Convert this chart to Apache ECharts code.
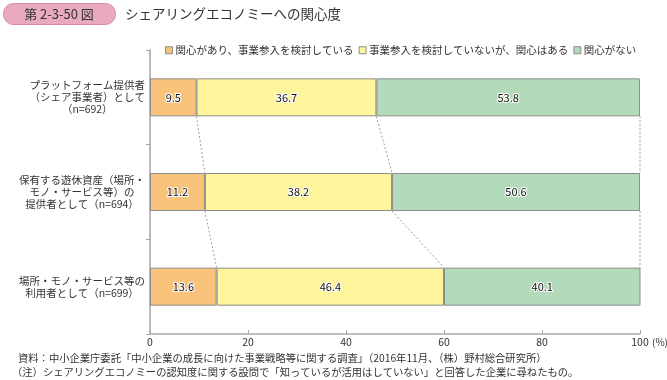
<!DOCTYPE html>
<html>
<head>
<meta charset="utf-8">
<script src="https://cdn.jsdelivr.net/npm/echarts@6/dist/echarts.min.js"></script>
<style>html,body{margin:0;padding:0;background:#fff}#c{width:667px;height:380px}</style>
</head>
<body>
<div id="c"></div>
<script>
var categories = [
  'プラットフォーム提供者\n（シェア事業者）として\n（n=692）',
  '保有する遊休資産（場所・\nモノ・サービス等）の\n提供者として（n=694）',
  '場所・モノ・サービス等の\n利用者として（n=699）'
];
var seriesNames = ['関心があり、事業参入を検討している', '事業参入を検討していないが、関心はある', '関心がない'];
var interested = [9.5, 11.2, 13.6];
var interestedNoEntry = [36.7, 38.2, 46.4];
var notInterested = [53.8, 50.6, 40.1];
var xTicks = [0, 20, 40, 60, 80, 100];
var xUnit = '(%)';
var colors = ['#F9C37B', '#FFF59C', '#B3DBBA'];
var FONT = '"Noto Sans CJK JP", "Noto Sans", sans-serif';

var seriesData = [interested, interestedNoEntry, notInterested];
var cums = categories.map(function (c, i) {
  var s = 0, arr = [];
  seriesData.forEach(function (d) { s += d[i]; arr.push(Math.round(s * 10) / 10); });
  return arr;
});
var connectors = [];
for (var i = 0; i < categories.length - 1; i++) {
  for (var k = 0; k < seriesData.length; k++) {
    connectors.push([Math.min(cums[i][k], 100), i, Math.min(cums[i + 1][k], 100), i + 1]);
  }
}
var BAR_W = 38;

var chart = echarts.init(document.getElementById('c'));
var barSeries = seriesData.map(function (d, idx) {
  return {
    name: seriesNames[idx],
    type: 'bar',
    stack: 'total',
    barWidth: BAR_W,
    data: d,
    itemStyle: { color: colors[idx], borderColor: '#8c8c8c', borderWidth: 1 },
    label: {
      show: true, position: 'inside', color: '#111', fontSize: 11, fontFamily: FONT,
      textBorderColor: '#fff', textBorderWidth: 2,
      formatter: function (p) { return p.value.toFixed(1); }
    },
    emphasis: { disabled: true },
    z: 3
  };
});
barSeries.push({
  type: 'custom',
  silent: true,
  z: 1,
  encode: { x: [0, 2], y: [1, 3] },
  data: connectors,
  renderItem: function (params, api) {
    var p1 = api.coord([api.value(0), api.value(1)]);
    var p2 = api.coord([api.value(2), api.value(3)]);
    return {
      type: 'line',
      shape: { x1: p1[0], y1: p1[1] + BAR_W / 2, x2: p2[0], y2: p2[1] - BAR_W / 2 },
      style: { stroke: '#9a9a9a', lineWidth: 1, lineDash: [2, 2] }
    };
  }
});

chart.setOption({
  animation: false,
  textStyle: { fontFamily: FONT },
  grid: { left: 150, right: 27, top: 50, bottom: 46, containLabel: false, outerBoundsMode: 'none' },
  legend: {
    data: seriesNames,
    left: 160, top: 40,
    itemWidth: 7, itemHeight: 7, itemGap: 5,
    icon: 'rect',
    itemStyle: { borderColor: '#8c8c8c', borderWidth: 1 },
    textStyle: { fontSize: 10.5, color: '#333', fontFamily: FONT, padding: [0, 0, 0, -2] }
  },
  xAxis: {
    type: 'value', min: 0, max: 100, interval: 20,
    axisLine: { show: true, lineStyle: { color: '#aaa', width: 1.5 } },
    axisTick: { show: true, inside: true, length: 4, lineStyle: { color: '#aaa' } },
    axisLabel: { fontSize: 10.5, color: '#333', margin: 3, fontFamily: FONT,
      formatter: function (v) { return xTicks.indexOf(v) >= 0 ? String(v) : ''; } },
    splitLine: { show: false }
  },
  yAxis: {
    type: 'category', data: categories, inverse: true,
    axisLine: { show: true, lineStyle: { color: '#bbb', width: 2 } },
    axisTick: { show: true, length: 4, lineStyle: { color: '#aaa' } },
    axisLabel: {
      fontSize: 10.5, color: '#333', margin: 5, lineHeight: 12, fontFamily: FONT,
      formatter: function (v) {
        return v.split('\n').map(function (l) { return '{a|' + l + '}'; }).join('\n');
      },
      rich: { a: { align: 'center', fontSize: 10.5, lineHeight: 12, color: '#333', fontFamily: FONT } }
    }
  },
  graphic: [
    { type: 'rect', left: 3, top: 3, shape: { width: 112, height: 21, r: 10 },
      style: { fill: '#E9A9BE', stroke: '#D98AA6', lineWidth: 1 } },
    { type: 'text', x: 59, y: 14, style: { text: '第 2-3-50 図', fill: '#333', fontSize: 13, fontFamily: FONT, align: 'center', verticalAlign: 'middle' } },
    { type: 'text', x: 125, y: 14, style: { text: 'シェアリングエコノミーへの関心度', fill: '#333', fontSize: 13.5, fontFamily: FONT, verticalAlign: 'middle' } },
    { type: 'text', x: 652, y: 342, style: { text: xUnit, fill: '#333', fontSize: 10, fontFamily: FONT, verticalAlign: 'middle' } },
    { type: 'text', x: 18, y: 358, style: { text: '資料：中小企業庁委託「中小企業の成長に向けた事業戦略等に関する調査」（2016年11月、（株）野村総合研究所）', fill: '#333', fontSize: 10.3, fontFamily: FONT, verticalAlign: 'middle' } },
    { type: 'text', x: 12, y: 372, style: { text: '（注）シェアリングエコノミーの認知度に関する設問で「知っているが活用はしていない」と回答した企業に尋ねたもの。', fill: '#333', fontSize: 10.3, fontFamily: FONT, verticalAlign: 'middle' } }
  ],
  series: barSeries
});
</script>
</body>
</html>
